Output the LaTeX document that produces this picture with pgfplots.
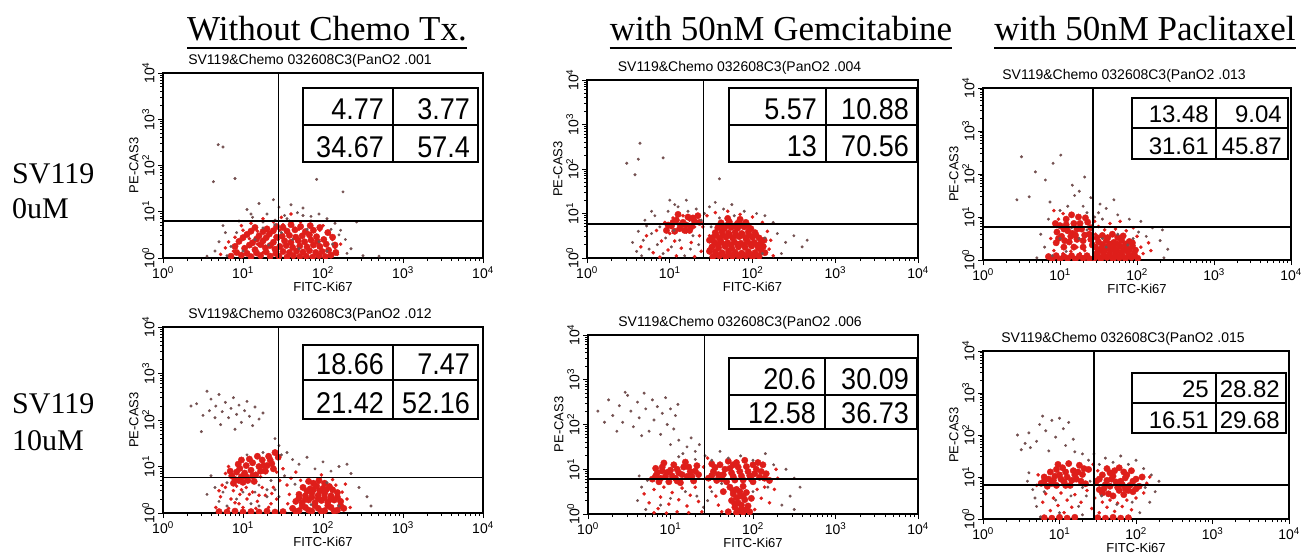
\documentclass[border=0pt]{standalone}
\usepackage{fontspec}
\setmainfont{Liberation Serif}
\newfontfamily\arial{Liberation Sans}
\newfontfamily\tabfont[FakeStretch=0.9]{Liberation Sans}
\usepackage{pgfplots}
\pgfplotsset{compat=1.18}
\definecolor{dotred}{RGB}{222,30,26}
\definecolor{dotgray}{RGB}{115,80,80}
\pgfplotsset{
  facs/.style={
    scale only axis,
    xmin=0, xmax=4, ymin=0, ymax=4,
    axis line style={line width=1.3pt},
    clip marker paths=true,
    tick pos=left,
    tick align=outside,
    xtick={0,1,2,3,4}, ytick={0,1,2,3,4},
    xticklabels={10\textsuperscript{0},10\textsuperscript{1},10\textsuperscript{2},10\textsuperscript{3},10\textsuperscript{4}},
    yticklabels={10\textsuperscript{0},10\textsuperscript{1},10\textsuperscript{2},10\textsuperscript{3},10\textsuperscript{4}},
    minor xtick={0.301,0.477,0.602,0.699,0.778,0.845,0.903,0.954,1.301,1.477,1.602,1.699,1.778,1.845,1.903,1.954,2.301,2.477,2.602,2.699,2.778,2.845,2.903,2.954,3.301,3.477,3.602,3.699,3.778,3.845,3.903,3.954},
    minor ytick={0.301,0.477,0.602,0.699,0.778,0.845,0.903,0.954,1.301,1.477,1.602,1.699,1.778,1.845,1.903,1.954,2.301,2.477,2.602,2.699,2.778,2.845,2.903,2.954,3.301,3.477,3.602,3.699,3.778,3.845,3.903,3.954},
    major tick length=5pt, minor tick length=3pt,
    tick style={black, line width=1pt},
    ticklabel style={font=\arial\fontsize{14}{14}\selectfont},
    yticklabel style={rotate=90, anchor=south},
    xlabel={FITC-Ki67}, ylabel={PE-CAS3},
    label style={font=\arial\fontsize{13}{13}\selectfont},
    xlabel style={yshift=4pt},
    ylabel style={yshift=-3pt},
    title style={font=\arial\fontsize{14}{14}\selectfont, xshift=-13pt, yshift=-4pt},
  },
  blob/.style={only marks, mark=*, color=dotred, mark size=3.2pt, mark options={draw=none, fill=dotred}},
  rdot/.style={only marks, mark=*, color=dotred, mark size=1.6pt, mark options={draw=none, fill=dotred}},
  gdot/.style={only marks, mark=*, color=dotgray, mark size=1.3pt, mark options={draw=none, fill=dotgray}},
  quad/.style={black, line width=1.4pt, no marks},
}
\newcommand\qtab[6]{%
  \draw[line width=2pt, fill=white] (#1pt,-#4pt) rectangle (#3pt,-#6pt);
  \draw[line width=2pt] (#2pt,-#4pt) -- (#2pt,-#6pt);
  \draw[line width=2pt] (#1pt,-#5pt) -- (#3pt,-#5pt);}
\newcommand\qnum[3]{\node[anchor=base east, inner sep=0pt] at (#1pt,-#2pt) {#3};}

\begin{document}
\begin{tikzpicture}
\useasboundingbox (0,0) rectangle (1305pt,-558pt);

% column titles
\node[anchor=base, inner sep=0pt, font=\fontsize{35}{35}\selectfont] (t1) at (327pt,-40pt) {Without Chemo Tx.};
\draw[line width=2pt] ([yshift=-8pt]t1.base west) -- ([yshift=-8pt]t1.base east);
\node[anchor=base, inner sep=0pt, font=\fontsize{35}{35}\selectfont] (t2) at (781pt,-40pt) {with 50nM Gemcitabine};
\draw[line width=2pt] ([yshift=-8pt]t2.base west) -- ([yshift=-8pt]t2.base east);
\node[anchor=base, inner sep=0pt, font=\fontsize{35}{35}\selectfont] (t3) at (1145pt,-40pt) {with 50nM Paclitaxel};
\draw[line width=2pt] ([yshift=-8pt]t3.base west) -- ([yshift=-8pt]t3.base east);

% row labels
\node[anchor=base west, inner sep=0pt, font=\fontsize{30}{30}\selectfont] at (12pt,-183pt) {SV119};
\node[anchor=base west, inner sep=0pt, font=\fontsize{30}{30}\selectfont] at (12pt,-218pt) {0uM};
\node[anchor=base west, inner sep=0pt, font=\fontsize{30}{30}\selectfont] at (12pt,-413pt) {SV119};
\node[anchor=base west, inner sep=0pt, font=\fontsize{30}{30}\selectfont] at (12pt,-450pt) {10uM};

% ---------- Panel 1 ----------
\begin{axis}[facs, width=320pt, height=185pt, at={(163pt,-258pt)}, anchor=south west,
  title={SV119\&Chemo 032608C3(PanO2 .001}]
\addplot[rdot] coordinates {(0.72,0.08)(0.78,0.22)(0.88,0.15)(0.92,0.28)(0.90,0.45)(1.00,0.60)(1.06,0.12)(1.08,0.42)
 (1.18,0.30)(1.18,0.58)(1.25,0.12)(1.30,0.42)(1.36,0.58)(1.44,0.40)(1.46,0.60)(1.50,0.72)(1.62,0.70)(1.70,0.62)
 (1.72,0.78)(1.84,0.70)(1.96,0.60)(2.00,0.70)(2.08,0.52)(2.12,0.40)(2.15,0.22)(2.18,0.08)(2.22,0.30)(1.10,0.75)
 (1.25,0.85)(1.38,0.78)(1.48,0.88)(1.60,0.95)(0.82,0.35)(0.98,0.70)};
\addplot[blob] coordinates {(1.45,0.04)(1.55,0.02)(1.63,0.05)(1.71,0.03)(1.79,0.04)(1.87,0.02)(1.95,0.05)(2.03,0.03)(2.10,0.06)
 (1.50,0.14)(1.58,0.12)(1.67,0.15)(1.75,0.13)(1.83,0.16)(1.91,0.12)(1.99,0.14)(2.07,0.17)
 (1.46,0.25)(1.54,0.27)(1.62,0.23)(1.71,0.26)(1.80,0.24)(1.88,0.28)(1.96,0.25)(2.04,0.30)
 (1.52,0.37)(1.60,0.34)(1.69,0.38)(1.77,0.35)(1.85,0.39)(1.93,0.36)(2.01,0.40)
 (1.49,0.47)(1.58,0.49)(1.66,0.45)(1.74,0.48)(1.83,0.50)(1.92,0.46)
 (1.55,0.58)(1.65,0.61)(1.78,0.57)(1.88,0.60)
 (0.85,0.04)(0.98,0.06)(1.10,0.03)(1.22,0.05)(1.34,0.04)
 (1.02,0.21)(1.15,0.18)(1.28,0.22)(1.40,0.19)
 (0.95,0.36)(1.12,0.33)(1.25,0.37)(1.38,0.34)
 (1.05,0.51)(1.20,0.48)(1.33,0.52)
 (1.15,0.66)(1.30,0.63)(1.42,0.68)
 (0.92,0.12)(1.05,0.10)(1.17,0.11)(1.29,0.13)(1.41,0.10)(0.90,0.25)(1.08,0.28)(1.22,0.29)(1.34,0.27)
 (1.00,0.44)(1.17,0.41)(1.29,0.44)(1.42,0.45)(1.10,0.58)(1.25,0.57)(1.38,0.59)(1.50,0.66)(1.60,0.72)
 (1.72,0.68)(1.84,0.70)(1.96,0.66)(2.06,0.55)(2.12,0.45)(2.15,0.28)(2.16,0.12)};
\addplot[gdot] coordinates {(0.69,2.45)(0.75,2.40)(0.63,1.65)(0.90,1.72)(1.92,1.70)(2.25,1.43)(2.42,0.78)
 (1.05,1.05)(1.20,1.18)(1.30,0.95)(1.38,1.26)(1.45,1.10)(1.52,0.92)(1.60,1.15)(1.68,0.98)(1.75,1.08)(1.85,0.90)
 (1.95,0.95)(2.05,0.85)(2.15,0.75)(2.22,0.60)(2.28,0.40)(2.35,0.20)(2.30,0.10)(0.65,0.15)(0.70,0.35)(0.78,0.55)
 (0.85,0.25)(0.95,0.80)(1.12,0.88)(1.25,0.78)(1.40,0.82)(1.58,0.80)(2.12,0.30)(2.20,0.50)(0.80,0.05)(2.50,0.05)
 (2.70,0.04)(0.55,0.04)
 (1.00,0.15)(1.15,0.40)(1.32,0.28)(1.48,0.55)(1.62,0.40)(1.80,0.62)(1.95,0.35)(2.05,0.15)(1.70,0.20)(1.25,0.65)
 (0.92,0.55)(1.40,0.72)(1.55,0.85)(1.75,0.92)(1.10,0.95)(1.85,0.80)(2.10,0.62)(0.75,0.70)};
\addplot[quad] coordinates {(1.44,0) (1.44,4)};
\addplot[quad] coordinates {(0,0.80) (4,0.80)};
\end{axis}

% ---------- Panel 2 ----------
\begin{axis}[facs, width=320pt, height=186pt, at={(163pt,-513pt)}, anchor=south west,
  title={SV119\&Chemo 032608C3(PanO2 .012}]
\addplot[rdot] coordinates {(0.72,0.35)(0.78,0.55)(0.85,0.30)(0.88,0.48)(0.95,0.20)(0.96,0.40)(1.04,0.55)(1.05,0.30)
 (1.12,0.45)(1.18,0.25)(1.24,0.55)(1.28,0.38)(1.35,0.20)(1.38,0.55)(1.42,0.88)(1.46,0.70)(1.50,0.95)(1.55,0.60)
 (1.58,0.40)(1.60,0.75)(1.66,0.88)(1.72,0.70)(2.16,0.60)(2.24,0.45)(2.30,0.30)(2.34,0.12)(2.28,0.62)(2.12,0.72)
 (1.98,0.82)(1.56,0.20)(0.82,1.00)(0.78,0.85)(1.22,0.78)
 (0.66,0.12)(0.74,0.60)(0.82,0.10)(0.90,0.22)(0.92,0.58)(1.00,0.12)(1.08,0.40)(1.16,0.10)(1.20,0.38)(1.32,0.12)
 (1.36,0.42)(1.42,0.30)(0.70,0.48)(0.98,0.50)};
\addplot[blob] coordinates {(0.86,0.80)(0.92,0.88)(0.90,0.72)(0.96,0.96)(0.98,0.78)(1.02,0.86)(1.04,1.02)(1.06,0.70)
 (1.10,0.92)(1.12,1.08)(1.16,0.82)(1.20,1.00)(1.24,1.14)(1.28,0.90)(1.32,1.22)(1.36,1.06)(1.40,1.30)(0.94,1.05)
 (1.08,1.16)(1.18,1.22)(1.30,1.02)(0.88,0.64)(1.00,0.66)(1.14,0.68)
 (0.95,0.70)(1.04,0.78)(1.12,0.80)(1.22,0.90)(1.26,1.02)(1.34,1.14)(1.44,1.20)(1.38,0.95)(0.84,0.90)(0.98,1.14)
 (1.62,0.10)(1.70,0.05)(1.78,0.12)(1.86,0.04)(1.94,0.10)(2.02,0.05)(2.10,0.12)(2.18,0.06)(2.26,0.10)
 (1.66,0.25)(1.74,0.22)(1.82,0.28)(1.90,0.22)(1.98,0.27)(2.06,0.23)(2.14,0.28)(2.22,0.25)
 (1.70,0.40)(1.78,0.37)(1.86,0.43)(1.94,0.38)(2.02,0.42)(2.10,0.37)(2.18,0.44)
 (1.75,0.55)(1.84,0.52)(1.92,0.58)(2.00,0.53)(2.08,0.57)(1.82,0.68)(1.95,0.70)
 (1.66,0.03)(1.74,0.15)(1.82,0.06)(1.90,0.16)(1.98,0.03)(2.06,0.16)(2.14,0.04)(2.22,0.16)(1.70,0.32)(1.78,0.30)
 (1.86,0.34)(1.94,0.31)(2.02,0.33)(2.10,0.30)(2.18,0.34)(1.80,0.47)(1.88,0.50)(1.96,0.48)(2.04,0.50)(2.12,0.50)
 (1.88,0.64)(2.02,0.64)
 (0.70,0.03)(0.80,0.02)(0.90,0.04)(1.00,0.02)(1.10,0.03)(1.20,0.02)(1.30,0.04)(1.40,0.02)(1.50,0.03)};
\addplot[gdot] coordinates {(0.42,2.35)(0.55,2.62)(0.60,2.45)(0.66,2.30)(0.70,2.55)(0.74,2.18)(0.78,2.38)(0.82,2.05)
 (0.85,2.25)(0.88,2.48)(0.92,2.12)(0.95,2.32)(0.98,1.95)(1.02,2.20)(1.05,2.40)(1.08,2.08)(1.12,1.88)(1.15,2.28)
 (1.20,2.02)(0.65,2.05)(0.58,2.20)(0.50,2.10)(0.72,1.90)(0.90,1.80)(0.48,1.75)(1.25,2.15)(0.35,2.30)
 (1.40,1.60)(1.45,1.45)(1.55,1.30)(1.70,1.05)(1.80,1.20)(2.00,1.10)(2.20,1.00)(2.35,0.85)(2.45,0.55)(2.55,0.35)
 (2.60,0.15)(2.30,1.05)(1.62,1.15)(1.90,0.95)(2.10,0.90)(1.48,1.25)(0.70,0.25)(0.65,0.55)(0.75,0.45)(0.80,0.15)
 (1.20,0.15)(1.30,0.35)(1.15,0.45)(1.40,0.50)(1.35,0.70)(0.60,0.80)(0.55,0.40)
 (0.80,0.65)(0.92,0.30)(1.00,0.45)(1.10,0.20)(1.20,0.60)(1.30,0.50)(1.45,0.35)(1.52,0.80)(1.65,0.62)(1.85,0.18)
 (2.05,0.65)(2.20,0.15)(1.25,1.30)(1.05,1.25)};
\addplot[quad] coordinates {(1.44,0) (1.44,4)};
\addplot[quad] coordinates {(0,0.77) (4,0.77)};
\end{axis}

% ---------- Panel 3 ----------
\begin{axis}[facs, width=331pt, height=178pt, at={(587pt,-258pt)}, anchor=south west,
  title={SV119\&Chemo 032608C3(PanO2 .004}]
\addplot[rdot] coordinates {(0.65,0.25)(0.72,0.50)(0.80,0.12)(0.84,0.62)(0.90,0.38)(0.94,0.80)(0.98,0.18)(1.00,0.55)
 (1.04,0.90)(1.06,0.38)(1.10,0.75)(1.14,0.22)(1.16,0.95)(1.20,0.58)(1.24,0.85)(1.26,0.35)(1.30,0.70)(1.32,0.95)
 (1.36,0.50)(1.38,0.15)(1.40,0.70)(1.08,0.05)(0.88,0.02)(1.30,0.03)
 (1.45,0.95)(1.55,1.02)(1.70,1.05)(1.85,0.98)(2.00,0.92)(2.12,0.80)(2.18,0.60)(2.22,0.40)(2.20,0.20)(2.25,0.05)
 (1.48,0.50)(1.47,0.20)};
\addplot[blob] coordinates {(1.02,0.72)(1.08,0.85)(1.12,0.66)(1.16,0.80)(1.22,0.92)(1.26,0.70)(1.30,0.82)(1.18,0.62)
 (1.34,0.95)(1.10,0.98)(0.96,0.62)
 (1.04,0.80)(1.14,0.74)(1.20,0.74)(1.28,0.90)(1.24,0.62)(0.98,0.74)(1.06,0.60)(1.36,0.80)
 (1.52,0.03)(1.60,0.05)(1.68,0.02)(1.76,0.04)(1.84,0.03)(1.92,0.05)(2.00,0.02)(2.08,0.04)
 (1.55,0.14)(1.63,0.12)(1.71,0.15)(1.79,0.13)(1.87,0.11)(1.95,0.14)(2.03,0.12)(2.11,0.15)
 (1.51,0.25)(1.59,0.23)(1.67,0.26)(1.75,0.22)(1.83,0.25)(1.91,0.24)(1.99,0.27)(2.07,0.23)(2.13,0.26)
 (1.54,0.35)(1.62,0.37)(1.70,0.34)(1.78,0.36)(1.86,0.33)(1.94,0.37)(2.02,0.35)(2.10,0.34)
 (1.52,0.46)(1.60,0.44)(1.68,0.47)(1.76,0.45)(1.84,0.48)(1.92,0.44)(2.00,0.47)(2.08,0.45)
 (1.55,0.57)(1.63,0.59)(1.71,0.56)(1.79,0.58)(1.87,0.55)(1.95,0.59)(2.03,0.57)
 (1.58,0.68)(1.66,0.66)(1.74,0.69)(1.82,0.67)(1.90,0.70)(1.98,0.66)
 (1.62,0.79)(1.72,0.81)(1.82,0.78)(1.92,0.80)(1.70,0.89)(1.85,0.87)
 (1.56,0.08)(1.64,0.09)(1.72,0.08)(1.80,0.09)(1.88,0.07)(1.96,0.09)(2.04,0.08)(1.58,0.30)(1.66,0.30)(1.74,0.29)
 (1.82,0.31)(1.90,0.29)(1.98,0.31)(2.06,0.29)(1.56,0.52)(1.64,0.51)(1.72,0.52)(1.80,0.51)(1.88,0.52)(1.96,0.51)
 (2.04,0.52)(1.62,0.73)(1.70,0.74)(1.78,0.72)(1.86,0.74)(1.94,0.73)(1.48,0.40)(1.48,0.15)(2.14,0.40)(2.15,0.12)};
\addplot[gdot] coordinates {(0.64,2.58)(0.48,2.13)(0.62,2.22)(0.58,1.87)(0.92,2.25)(1.60,1.78)
 (0.55,0.35)(0.60,0.15)(0.62,0.60)(0.68,0.40)(0.70,0.85)(0.75,0.20)(0.78,0.55)(0.82,0.95)(0.85,0.30)(0.88,0.70)
 (0.92,0.10)(0.95,0.45)(0.98,1.05)(1.02,0.25)(1.05,0.62)(1.10,1.15)(1.12,0.40)(1.18,0.05)(1.20,1.30)(1.25,0.20)
 (1.28,0.50)(1.32,1.10)(1.35,0.30)(1.38,0.85)(1.42,1.00)(1.48,1.15)(1.55,1.25)(1.65,1.10)(1.75,1.20)(1.90,1.05)
 (2.05,1.00)(2.15,0.95)(2.25,0.80)(2.30,0.55)(2.40,0.35)(2.50,0.50)(2.60,0.25)(2.66,0.40)(2.35,0.10)(0.78,1.05)(1.00,1.30)
 (1.60,0.90)(1.78,0.95)(2.15,0.45)(2.12,0.10)(1.50,0.70)(0.72,0.72)(0.66,0.05)(1.22,1.05)(1.06,1.20)};
\addplot[quad] coordinates {(1.41,0) (1.41,4)};
\addplot[quad] coordinates {(0,0.76) (4,0.76)};
\end{axis}

% ---------- Panel 4 ----------
\begin{axis}[facs, width=308pt, height=172pt, at={(983pt,-260pt)}, anchor=south west,
  title={SV119\&Chemo 032608C3(PanO2 .013}]
\addplot[rdot] coordinates {(0.88,0.50)(0.92,0.22)(0.98,0.95)(1.04,0.15)(1.14,0.20)(1.22,0.30)(1.26,0.15)(1.32,0.22)
 (1.40,0.75)(1.46,0.60)(1.50,0.78)(1.58,0.70)(1.65,0.85)(1.72,0.72)(1.78,0.90)(1.86,0.68)(1.95,0.75)(2.00,0.55)
 (2.05,0.30)(2.08,0.15)(2.15,0.40)(2.18,0.22)(1.45,0.90)(1.04,1.08)(0.92,1.15)};
\addplot[blob] coordinates {(0.95,0.40)(1.02,0.55)(1.00,0.80)(1.08,0.95)(1.10,0.68)(1.12,0.42)(1.18,0.85)(1.20,0.58)
 (1.24,1.00)(1.28,0.72)(1.30,0.45)(1.36,0.88)(1.38,0.60)(1.42,0.35)(1.05,0.30)(0.96,0.65)(1.15,1.05)(1.33,0.98)
 (0.98,0.50)(1.06,0.45)(1.14,0.55)(1.22,0.48)(1.26,0.85)(1.05,0.72)(1.16,0.62)(1.32,0.58)(1.40,0.48)(1.22,0.72)
 (1.08,0.82)(0.94,0.85)(1.40,0.75)(1.30,0.30)(1.18,0.30)
 (1.45,0.05)(1.53,0.03)(1.61,0.06)(1.69,0.02)(1.77,0.05)(1.85,0.03)(1.93,0.06)(2.01,0.04)
 (1.48,0.16)(1.56,0.18)(1.64,0.14)(1.72,0.17)(1.80,0.15)(1.88,0.19)(1.96,0.15)
 (1.46,0.30)(1.54,0.27)(1.62,0.31)(1.70,0.28)(1.78,0.32)(1.86,0.29)(1.94,0.33)
 (1.50,0.42)(1.60,0.45)(1.70,0.41)(1.80,0.46)(1.90,0.43)(1.55,0.57)(1.68,0.60)(1.82,0.56)
 (1.49,0.10)(1.57,0.09)(1.65,0.10)(1.73,0.10)(1.81,0.09)(1.89,0.10)(1.97,0.10)(1.50,0.23)(1.58,0.22)(1.66,0.23)
 (1.74,0.22)(1.82,0.23)(1.90,0.24)(1.98,0.23)(1.55,0.36)(1.65,0.37)(1.75,0.37)(1.85,0.37)(1.94,0.40)(1.62,0.52)
 (1.75,0.52)(1.48,0.52)
 (0.90,0.03)(1.00,0.02)(1.10,0.04)(1.20,0.02)(1.30,0.04)(1.38,0.03)
 (0.85,0.08)(0.95,0.10)(1.05,0.08)(1.15,0.10)(1.25,0.09)(1.35,0.10)};
\addplot[gdot] coordinates {(0.50,2.40)(0.91,2.25)(1.01,2.44)(0.68,2.05)(0.81,1.86)(0.44,1.40)(0.60,1.47)(0.87,1.35)
 (1.16,1.74)(1.19,1.50)(1.32,1.93)(1.70,1.40)(2.33,0.70)(1.25,1.60)(1.40,1.45)(1.52,1.30)(1.30,1.25)
 (0.80,0.30)(0.75,0.60)(0.85,0.95)(0.90,0.10)(1.00,1.15)(1.10,1.25)(1.50,1.10)(1.60,1.20)(1.75,1.05)(1.90,0.95)
 (2.05,0.90)(2.20,0.75)(2.30,0.45)(2.40,0.25)(2.35,0.05)(1.45,1.00)(1.55,0.95)(1.35,1.10)(2.12,0.55)(0.70,0.05)
 (1.00,0.50)(1.15,0.75)(1.25,0.50)(1.35,0.70)(1.55,0.50)(1.75,0.60)(1.95,0.50)(2.02,0.65)(1.08,0.20)(1.60,0.30)(1.88,0.35)};
\addplot[quad] coordinates {(1.43,0) (1.43,4)};
\addplot[quad] coordinates {(0,0.77) (4,0.77)};
\end{axis}

% ---------- Panel 5 ----------
\begin{axis}[facs, width=330pt, height=179pt, at={(588pt,-514pt)}, anchor=south west,
  title={SV119\&Chemo 032608C3(PanO2 .006}]
\addplot[rdot] coordinates {(0.68,0.45)(0.74,0.25)(0.80,0.55)(0.85,0.12)(0.88,0.38)(0.92,0.60)(0.98,0.22)(1.02,0.48)
 (1.08,0.05)(1.10,0.32)(1.14,0.58)(1.20,0.18)(1.24,0.42)(1.30,0.60)(1.34,0.28)(1.38,0.05)(0.95,0.02)(0.80,0.03)
 (1.22,0.03)(1.48,0.60)(1.55,0.40)(1.58,0.20)(1.62,0.05)(2.05,0.55)(2.10,0.35)(2.14,0.60)(2.20,0.25)(2.02,0.10)
 (2.26,0.55)(2.30,0.80)(2.28,1.00)(1.45,1.25)(1.40,1.05)};
\addplot[blob] coordinates {(0.78,0.78)(0.84,0.92)(0.86,0.72)(0.90,1.05)(0.94,0.84)(0.98,0.72)(1.00,0.98)(1.04,1.10)
 (1.06,0.80)(1.10,0.92)(1.12,0.70)(1.16,1.05)(1.20,0.84)(1.24,0.95)(1.28,0.74)(1.32,1.08)(1.34,0.88)(0.82,1.02)
 (0.92,1.14)(1.18,1.16)
 (0.82,0.85)(0.88,0.80)(0.96,0.93)(1.02,0.85)(1.08,1.00)(1.14,0.88)(1.22,1.05)(1.26,0.84)(1.30,0.96)(1.08,0.74)(0.90,0.96)
 (1.46,0.80)(1.52,0.95)(1.56,0.75)(1.60,1.10)(1.64,0.88)(1.68,0.72)(1.72,1.02)(1.76,0.84)(1.80,1.15)(1.84,0.95)
 (1.88,0.76)(1.92,1.06)(1.96,0.86)(2.00,0.72)(2.04,1.00)(2.08,0.82)(2.12,1.10)(2.16,0.90)(2.20,0.75)(1.50,1.12)
 (1.70,1.18)(1.90,1.20)(2.06,1.15)
 (1.50,0.86)(1.58,0.88)(1.62,0.78)(1.66,1.00)(1.74,0.92)(1.78,0.76)(1.82,1.05)(1.86,0.85)(1.94,0.95)(1.98,0.78)
 (2.02,0.90)(2.10,0.95)(2.14,0.80)(1.54,1.04)(1.76,1.10)(2.00,1.10)
 (1.72,0.60)(1.80,0.55)(1.88,0.62)(1.76,0.45)(1.84,0.40)(1.92,0.48)(1.74,0.30)(1.82,0.25)(1.90,0.32)(1.78,0.15)
 (1.86,0.10)(1.94,0.18)(1.80,0.03)(1.88,0.04)(1.96,0.05)(1.70,0.05)(1.64,0.50)(1.98,0.35)
 (1.76,0.52)(1.84,0.50)(1.80,0.36)(1.88,0.40)(1.78,0.22)(1.86,0.20)(1.84,0.08)(1.92,0.10)};
\addplot[gdot] coordinates {(0.12,2.30)(0.25,2.55)(0.30,2.20)(0.38,2.42)(0.42,2.05)(0.48,2.65)(0.52,2.30)(0.55,1.95)
 (0.60,2.50)(0.62,2.15)(0.68,2.70)(0.70,2.35)(0.74,1.85)(0.78,2.55)(0.80,2.10)(0.84,2.40)(0.88,1.78)(0.90,2.25)
 (0.94,2.60)(0.96,2.00)(1.00,2.35)(1.04,1.90)(1.06,2.20)(1.09,2.45)(0.35,1.85)(0.20,2.05)(0.65,1.75)(0.45,2.72)
 (1.10,1.65)(1.20,1.50)(1.25,1.70)(1.30,1.40)(1.35,1.55)(1.00,1.55)(1.15,1.35)(1.42,1.30)(1.50,1.20)(1.60,1.40)
 (1.70,1.25)(1.85,1.30)(2.00,1.20)(2.15,1.35)(2.25,1.10)(2.40,1.00)(2.50,0.80)(2.57,0.60)(2.45,0.40)(2.35,0.20)
 (2.50,0.10)(0.60,0.30)(0.65,0.60)(0.70,0.10)(0.62,0.85)(1.45,0.30)(1.40,0.15)
 (0.72,0.75)(0.88,0.20)(1.00,0.35)(1.18,0.50)(1.32,0.40)(1.50,0.50)(1.62,0.68)(2.00,0.50)(2.18,0.60)(1.30,1.22)(1.10,1.28)};
\addplot[quad] coordinates {(1.41,0) (1.41,4)};
\addplot[quad] coordinates {(0,0.78) (4,0.78)};
\end{axis}

% ---------- Panel 6 ----------
\begin{axis}[facs, width=306pt, height=168pt, at={(983pt,-519pt)}, anchor=south west,
  title={SV119\&Chemo 032608C3(PanO2 .015}]
\addplot[rdot] coordinates {(0.78,0.40)(0.82,0.60)(0.88,0.20)(0.92,0.50)(0.98,0.32)(1.02,0.62)(1.06,0.15)(1.10,0.45)
 (1.16,0.28)(1.20,0.58)(1.28,0.40)(1.36,0.68)(1.42,0.25)(1.46,0.50)(1.52,0.15)(1.56,0.40)(1.62,0.28)(1.66,0.45)
 (1.72,0.18)(1.76,0.38)(1.82,0.30)(1.88,0.45)(1.94,0.22)(2.00,0.50)(2.10,0.62)(2.14,0.85)(2.18,1.00)(1.44,1.30)
 (1.50,1.15)(0.70,0.80)(0.72,1.05)};
\addplot[blob] coordinates {(0.76,0.85)(0.80,1.00)(0.84,0.78)(0.88,1.12)(0.92,0.92)(0.96,0.80)(1.00,1.05)(1.04,1.22)
 (1.06,0.88)(1.10,1.00)(1.14,0.80)(1.18,1.15)(1.22,0.95)(1.26,1.28)(1.30,1.06)(1.34,0.84)(1.38,1.18)(0.86,0.95)
 (0.98,1.30)(1.12,1.32)
 (0.80,0.90)(0.90,0.85)(0.94,1.02)(1.02,0.95)(1.08,1.12)(1.16,0.92)(1.20,1.05)(1.28,0.90)(1.32,1.20)(1.24,1.12)
 (0.96,1.18)(1.08,0.80)
 (1.48,0.90)(1.52,0.70)(1.56,1.05)(1.60,0.82)(1.64,0.60)(1.68,0.95)(1.72,1.15)(1.76,0.75)(1.80,0.90)(1.84,0.58)
 (1.88,1.05)(1.92,0.80)(1.96,0.65)(2.00,0.95)(2.04,0.78)(2.08,1.00)(1.62,1.20)(1.78,1.22)(1.94,1.15)(1.70,0.55)
 (1.86,0.72)
 (1.52,0.95)(1.58,0.72)(1.62,0.92)(1.66,0.78)(1.70,1.02)(1.74,0.88)(1.78,0.68)(1.82,0.82)(1.86,0.98)(1.90,0.68)
 (1.96,0.90)(2.00,0.72)(1.66,1.10)(1.84,1.12)(1.56,0.62)
 (0.80,0.03)(0.90,0.02)(1.00,0.04)(1.10,0.02)(1.20,0.04)(1.50,0.03)(1.60,0.02)(1.70,0.04)(1.80,0.02)(1.90,0.03)};
\addplot[gdot] coordinates {(0.45,2.00)(0.55,1.80)(0.60,2.05)(0.62,1.70)(0.70,1.85)(0.74,2.25)(0.78,2.45)(0.82,2.10)
 (0.86,1.62)(0.90,2.35)(0.95,1.95)(1.00,2.40)(1.05,2.15)(1.08,1.75)(1.12,2.30)(1.18,1.90)(1.20,1.60)(1.30,1.55)
 (1.38,1.40)(0.50,1.65)(1.45,1.55)(1.52,1.30)(1.60,1.45)(1.70,1.35)(1.80,1.50)(1.90,1.30)(2.00,1.40)(2.10,1.20)
 (2.20,1.05)(2.30,0.90)(0.60,1.10)(0.65,0.70)(0.70,0.30)(0.75,0.05)(0.68,0.50)(1.25,0.30)(1.35,0.55)(1.30,0.10)
 (2.05,0.15)(2.18,0.40)(2.25,0.65)(0.58,0.90)
 (0.80,0.65)(0.95,0.45)(1.15,0.55)(1.30,0.75)(1.55,0.55)(1.75,0.35)(1.95,0.40)(2.12,0.75)(1.00,0.15)(1.40,0.90)};
\addplot[quad] coordinates {(1.45,0) (1.45,4)};
\addplot[quad] coordinates {(0,0.81) (4,0.81)};
\end{axis}

% ---------- quadrant tables ----------
\begin{scope}[font=\tabfont\fontsize{30}{30}\selectfont]
\qtab{303}{393}{478}{88}{125}{162}
\qnum{384}{119}{4.77}\qnum{470}{119}{3.77}\qnum{384}{157}{34.67}\qnum{470}{157}{57.4}
\qtab{303}{393}{478}{345}{380}{419}
\qnum{384}{374}{18.66}\qnum{470}{374}{7.47}\qnum{384}{413}{21.42}\qnum{470}{413}{52.16}
\qtab{729}{826}{917}{88}{125}{162}
\qnum{817}{119}{5.57}\qnum{909}{119}{10.88}\qnum{817}{156}{13}\qnum{909}{156}{70.56}
\qtab{729}{825}{917}{358}{395}{429}
\qnum{816}{389}{20.6}\qnum{909}{389}{30.09}\qnum{816}{423}{12.58}\qnum{909}{423}{36.73}
\end{scope}
\begin{scope}[font=\arial\fontsize{24}{24}\selectfont]
\qtab{1132}{1216}{1288}{98}{128}{159}
\qnum{1209}{122}{13.48}\qnum{1282}{122}{9.04}\qnum{1209}{154}{31.61}\qnum{1282}{154}{45.87}
\qtab{1132}{1216}{1286}{373}{403}{433}
\qnum{1209}{397}{25}\qnum{1280}{397}{28.82}\qnum{1209}{428}{16.51}\qnum{1280}{428}{29.68}
\end{scope}
\end{tikzpicture}
\end{document}
